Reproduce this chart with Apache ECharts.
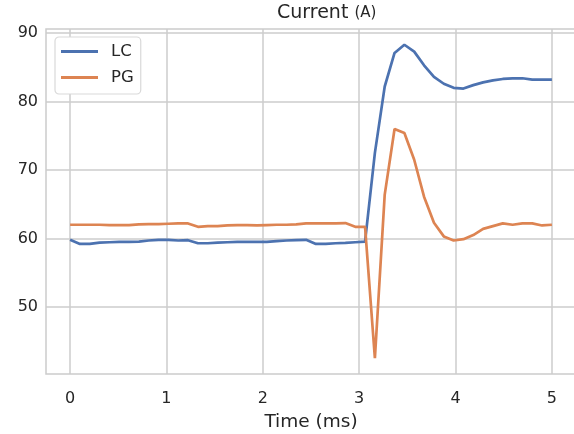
<!DOCTYPE html>
<html>
<head>
<meta charset="utf-8">
<script src="https://cdn.jsdelivr.net/npm/echarts@6/dist/echarts.min.js"></script>
<style>
  html, body { margin: 0; padding: 0; background: #fff; }
  #chart { width: 574px; height: 434px; }
</style>
</head>
<body>
<div id="chart"></div>
<script>
  // time samples (ms)
  var times = [0.000, 0.102, 0.204, 0.306, 0.408, 0.510, 0.612, 0.714, 0.816, 0.918,
    1.020, 1.122, 1.224, 1.327, 1.429, 1.531, 1.633, 1.735, 1.837, 1.939,
    2.041, 2.143, 2.245, 2.347, 2.449, 2.551, 2.653, 2.755, 2.857, 2.959,
    3.061, 3.163, 3.265, 3.367, 3.469, 3.571, 3.673, 3.776, 3.878, 3.980,
    4.082, 4.184, 4.286, 4.388, 4.490, 4.592, 4.694, 4.796, 4.898, 5.000];

  var lcValues = [59.8, 59.2, 59.2, 59.4, 59.45, 59.5, 59.5, 59.55, 59.7, 59.8,
    59.8, 59.7, 59.75, 59.3, 59.3, 59.4, 59.45, 59.5, 59.5, 59.5,
    59.5, 59.6, 59.7, 59.75, 59.8, 59.2, 59.2, 59.3, 59.35, 59.45,
    59.55, 72.5, 82.2, 87.1, 88.3, 87.3, 85.3, 83.6, 82.6, 82.0,
    81.9, 82.4, 82.8, 83.1, 83.3, 83.4, 83.4, 83.2, 83.2, 83.2];

  var pgValues = [62.0, 62.0, 62.0, 62.0, 61.95, 61.95, 61.95, 62.05, 62.1, 62.1,
    62.15, 62.2, 62.2, 61.7, 61.8, 61.8, 61.9, 61.95, 61.95, 61.9,
    61.95, 62.0, 62.0, 62.05, 62.2, 62.2, 62.2, 62.2, 62.25, 61.7,
    61.7, 42.5, 66.4, 76.0, 75.4, 71.5, 66.1, 62.3, 60.3, 59.7,
    59.9, 60.5, 61.4, 61.8, 62.2, 62.0, 62.2, 62.2, 61.9, 62.0];

  var xTicks = [0, 1, 2, 3, 4, 5];
  var yTicks = [50, 60, 70, 80, 90];

  function pairs(vals) {
    return times.map(function (t, i) { return [t, vals[i]]; });
  }

  var myChart = echarts.init(document.getElementById('chart'));
  var txt = '#262626';
  var gridColor = '#cccccc';
  var font = 'DejaVu Sans';

  myChart.setOption({
    animation: false,
    backgroundColor: '#fff',
    color: ['#4c72b0', '#dd8452'],
    title: {
      text: '{a|Current} {b|(A)}',
      left: 277,
      top: 4,
      padding: 0,
      textStyle: {
        fontFamily: font, fontSize: 19, fontWeight: 'normal', color: txt,
        rich: {
          a: { fontFamily: font, fontSize: 19, color: txt },
          b: { fontFamily: font, fontSize: 15, color: txt }
        }
      }
    },
    legend: {
      orient: 'vertical',
      left: 55,
      top: 37,
      padding: [6, 7, 8, 6],
      itemGap: 9,
      itemWidth: 37,
      itemHeight: 3,
      icon: 'rect',
      backgroundColor: '#fff',
      borderColor: '#d9d9d9',
      borderWidth: 1.2,
      borderRadius: 4,
      textStyle: { fontFamily: font, fontSize: 16.5, color: txt, padding: [0, 0, 0, 8] },
      data: ['LC', 'PG']
    },
    grid: {
      left: 46,
      width: 530,
      top: 29,
      bottom: 60,
      outerBoundsMode: 'none',
      show: true,
      borderColor: gridColor,
      borderWidth: 1.5,
      containLabel: false
    },
    xAxis: {
      type: 'value',
      min: -0.25,
      max: 5.25,
      name: 'Time (ms)',
      nameLocation: 'middle',
      nameGap: 39,
      nameTextStyle: { fontFamily: font, fontSize: 18.5, color: txt },
      axisLine: { show: false },
      axisTick: { show: false, customValues: xTicks },
      axisLabel: {
        customValues: xTicks,
        margin: 17,
        fontFamily: font, fontSize: 16, color: txt
      },
      splitLine: { show: true, lineStyle: { color: gridColor, width: 1.5 } }
    },
    yAxis: {
      type: 'value',
      min: 40.2,
      max: 90.6,
      axisLine: { show: false },
      axisTick: { show: false, customValues: yTicks },
      axisLabel: {
        customValues: yTicks,
        margin: 8,
        fontFamily: font, fontSize: 16, color: txt
      },
      splitLine: { show: true, lineStyle: { color: gridColor, width: 1.5 } }
    },
    series: [
      {
        name: 'LC',
        type: 'line',
        symbol: 'none',
        lineStyle: { width: 2.7 },
        data: pairs(lcValues)
      },
      {
        name: 'PG',
        type: 'line',
        symbol: 'none',
        lineStyle: { width: 2.7 },
        data: pairs(pgValues)
      }
    ]
  });
</script>
</body>
</html>
